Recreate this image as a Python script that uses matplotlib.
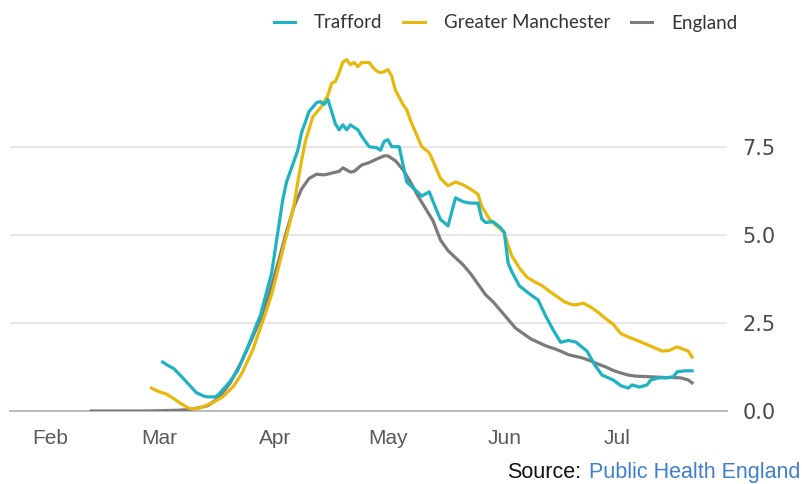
import matplotlib
matplotlib.use("Agg")
import matplotlib.pyplot as plt
from matplotlib.lines import Line2D
import pandas as pd

# ---- data (days since 2020-02-01, 7-day average values) ----
england_days = [11, 15, 20, 25, 30, 34, 37, 40, 42, 45, 48, 51, 54, 57, 59, 61, 63, 65, 67, 69,
                71, 73, 75, 77, 78, 80, 81, 83, 85, 87, 89, 90, 92, 94, 96, 98, 100, 102, 104, 106,
                108, 110, 112, 114, 116, 118, 120, 122, 124, 126, 128, 130, 132, 134, 136, 138, 140,
                142, 144, 146, 148, 150, 152, 154, 156, 158, 160, 162, 164, 166, 168, 170, 171]
england_vals = [0, 0, 0, 0, 0.01, 0.02, 0.04, 0.1, 0.15, 0.38, 0.8, 1.4, 2.1, 2.85, 3.55, 4.3, 5.1,
                5.8, 6.3, 6.6, 6.72, 6.7, 6.75, 6.8, 6.9, 6.78, 6.8, 6.98, 7.05, 7.15, 7.24, 7.24, 7.1,
                6.85, 6.5, 6.1, 5.75, 5.4, 4.85, 4.55, 4.35, 4.15, 3.9, 3.6, 3.3, 3.1, 2.85, 2.6, 2.35,
                2.2, 2.05, 1.95, 1.85, 1.78, 1.7, 1.6, 1.55, 1.5, 1.42, 1.33, 1.25, 1.15, 1.08, 1.02,
                0.99, 0.98, 0.97, 0.96, 0.95, 0.95, 0.94, 0.88, 0.8]

trafford_days = [30, 31, 33, 35, 37, 39, 41, 42, 44, 45, 47, 48, 50, 51, 53, 55, 56, 58, 59, 60, 61,
                 62, 63, 65, 66, 67, 69, 71, 72, 73, 74, 75, 76, 77, 78, 79, 80, 82, 83, 85, 87, 88,
                 89, 90, 91, 93, 95, 97, 99, 101, 102, 104, 105, 106, 108, 110, 112, 114, 115, 116,
                 118, 120, 121, 122, 123, 125, 128, 130, 132, 134, 136, 138, 140, 143, 145, 147, 150,
                 152, 154, 155, 157, 159, 160, 162, 164, 166, 167, 169, 171]
trafford_vals = [1.39, 1.32, 1.2, 0.98, 0.75, 0.52, 0.42, 0.4, 0.4, 0.48, 0.72, 0.85, 1.15, 1.4, 1.9,
                 2.45, 2.7, 3.5, 3.9, 4.6, 5.3, 6.0, 6.5, 7.1, 7.4, 7.9, 8.5, 8.75, 8.78, 8.7, 8.84,
                 8.5, 8.15, 7.98, 8.12, 7.98, 8.12, 7.98, 7.8, 7.5, 7.47, 7.4, 7.65, 7.7, 7.5, 7.5,
                 6.5, 6.3, 6.1, 6.22, 5.95, 5.43, 5.35, 5.25, 6.05, 5.94, 5.9, 5.9, 5.45, 5.35, 5.37,
                 5.2, 5.06, 4.2, 3.95, 3.55, 3.3, 3.15, 2.7, 2.3, 1.95, 2.0, 1.96, 1.7, 1.32, 1.02,
                 0.88, 0.72, 0.65, 0.74, 0.68, 0.74, 0.88, 0.94, 0.94, 0.97, 1.11, 1.14, 1.14]

gm_days = [27, 29, 31, 33, 35, 37, 38, 40, 43, 46, 49, 51, 53, 54, 56, 57, 59, 60, 62, 64, 65, 66, 67,
           68, 70, 72, 74, 75, 76, 77, 78, 79, 80, 81, 82, 83, 85, 86, 87, 88, 89, 90, 91, 92, 93, 94,
           95, 96, 98, 99, 101, 103, 104, 106, 108, 110, 112, 114, 115, 117, 119, 121, 122, 123, 125,
           127, 129, 131, 133, 135, 137, 139, 140, 142, 144, 146, 148, 150, 152, 154, 156, 158, 160,
           162, 163, 165, 167, 169, 170, 171]
gm_vals = [0.65, 0.55, 0.48, 0.35, 0.2, 0.08, 0.06, 0.09, 0.22, 0.4, 0.72, 1.05, 1.5, 1.73, 2.35, 2.65,
           3.3, 3.7, 4.57, 5.4, 5.85, 6.5, 7.1, 7.65, 8.35, 8.6, 8.95, 9.3, 9.35, 9.6, 9.9, 9.97, 9.83,
           9.89, 9.77, 9.89, 9.89, 9.75, 9.65, 9.6, 9.63, 9.69, 9.5, 9.1, 8.9, 8.7, 8.55, 8.25, 7.75,
           7.5, 7.33, 6.85, 6.6, 6.39, 6.5, 6.42, 6.3, 6.15, 5.8, 5.45, 5.25, 5.06, 4.7, 4.4, 4.06, 3.8,
           3.67, 3.56, 3.4, 3.25, 3.1, 3.02, 3.01, 3.06, 2.95, 2.8, 2.62, 2.46, 2.2, 2.1, 2.02, 1.93,
           1.84, 1.75, 1.7, 1.72, 1.82, 1.74, 1.7, 1.53]

series_names = ["Trafford", "Greater Manchester", "England"]
series_colors = ["#1db3c2", "#e9b80c", "#7b7b7b"]
month_ticks = ["2020-02-01", "2020-03-01", "2020-04-01", "2020-05-01", "2020-06-01", "2020-07-01"]
month_labels = ["Feb", "Mar", "Apr", "May", "Jun", "Jul"]
y_ticks = [0.0, 2.5, 5.0, 7.5]

base = pd.Timestamp("2020-02-01")
def to_dates(days):
    return [base + pd.Timedelta(days=d) for d in days]

fig = plt.figure(figsize=(8.03, 4.84), dpi=100)
ax = fig.add_axes([10 / 803, (484 - 411) / 484, (727 - 10) / 803, (411 - 41) / 484])

lw = 2.3
ax.plot(to_dates(england_days), england_vals, color=series_colors[2], lw=lw, zorder=3,
        solid_joinstyle="round")
ax.plot(to_dates(gm_days), gm_vals, color=series_colors[1], lw=lw, zorder=4, solid_joinstyle="round")
ax.plot(to_dates(trafford_days), trafford_vals, color=series_colors[0], lw=lw, zorder=5,
        solid_joinstyle="round")

ax.set_xlim(base - pd.Timedelta(days=10.65), base + pd.Timedelta(days=180.3))
ax.set_ylim(0, 10.5)

for s in ["top", "left", "right"]:
    ax.spines[s].set_visible(False)
ax.spines["bottom"].set_color("#b5b5b5")
ax.spines["bottom"].set_linewidth(1.3)

ax.yaxis.tick_right()
ax.set_yticks(y_ticks)
ax.set_yticklabels([f"{v:.1f}" for v in y_ticks], fontsize=15, color="#4a4a4a",
                   family="DejaVu Sans")
ax.tick_params(axis="y", length=0, pad=11)
ax.grid(axis="y", color="#e3e3e3", lw=1.2)
ax.set_axisbelow(True)

ax.set_xticks([pd.Timestamp(m) for m in month_ticks])
ax.set_xticklabels(month_labels, fontsize=15, color="#5a5a5a", family="Liberation Sans")
ax.tick_params(axis="x", length=0, pad=13)

handles = [Line2D([0], [0], color=c, lw=2.2) for c in series_colors]
fig.legend(handles, series_names, loc="center", bbox_to_anchor=(505.5 / 803, 1 - 23 / 484),
           ncol=3, frameon=False, prop={"family": "Lato", "size": 13.5}, labelcolor="#333333",
           handlelength=1.15, handletextpad=1.0, columnspacing=1.1, borderpad=0, borderaxespad=0)

t2 = fig.text(800 / 803, (484 - 478) / 484, "Public Health England", ha="right", va="baseline",
              fontsize=15.5, color="#3f7fcf", family="Liberation Sans")
fig.canvas.draw()
bb = t2.get_window_extent()
fig.text((bb.x0 - 7) / (803), (484 - 478) / 484, "Source:", ha="right", va="baseline",
         fontsize=15.5, color="#111111", family="Liberation Sans")

fig.savefig("out.png", dpi=100)
